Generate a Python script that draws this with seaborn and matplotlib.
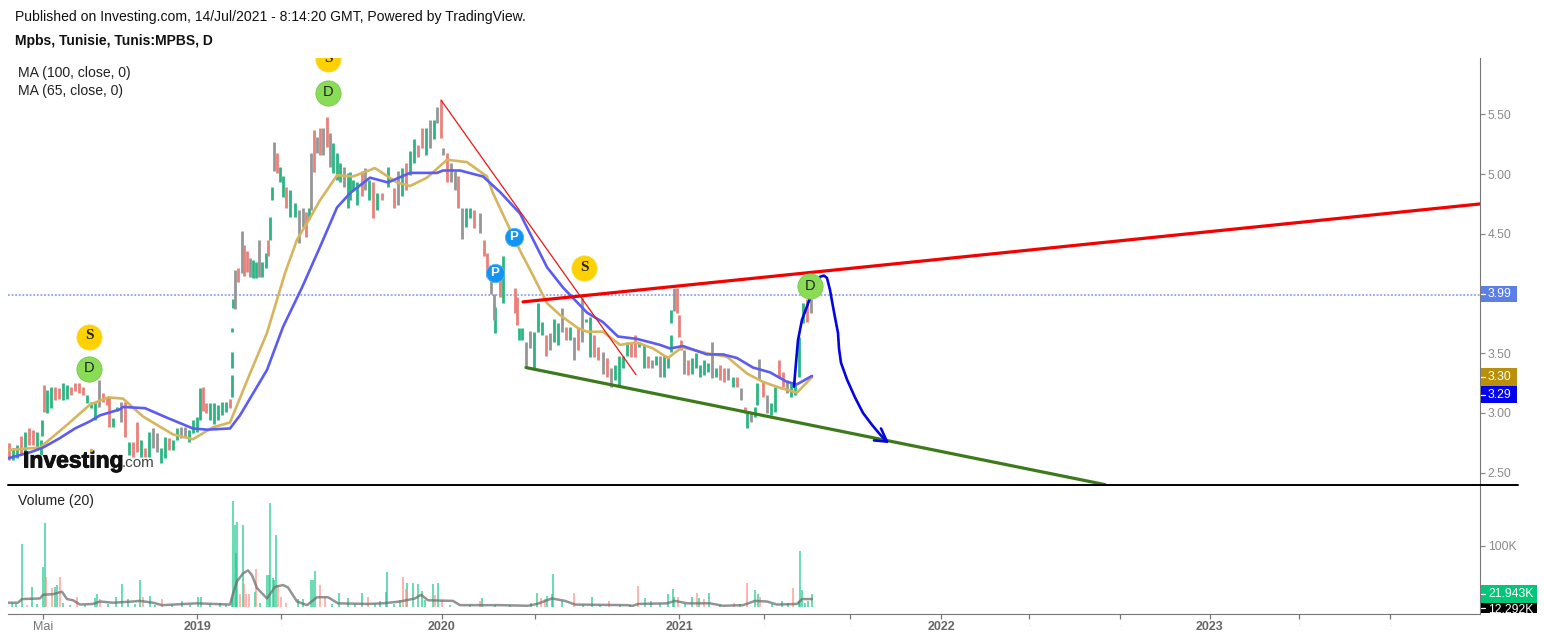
import matplotlib
matplotlib.use("Agg")
import matplotlib.pyplot as plt
import matplotlib.patheffects as pe
from matplotlib.patches import Rectangle
import pandas as pd
import seaborn as sns

W, H = 1544, 640

# Candles (x = bar position on the time axis)
candle_x = [
    9, 13, 17, 21, 25, 29, 33, 37, 41, 42,
    44, 47, 51, 55, 59, 63, 67, 71, 75, 79,
    83, 87, 91, 95, 99, 103, 107, 109, 113, 117,
    121, 125, 129, 133, 137, 141, 145, 149, 153, 157,
    161, 165, 169, 173, 177, 181, 185, 189, 193, 197,
    200, 203, 206, 210, 214, 218, 222, 226, 230, 232,
    232, 232, 233, 235, 238, 242, 244, 247, 250, 253,
    256, 259, 262, 266, 268, 270, 272, 274, 277, 280,
    283, 286, 290, 295, 299, 303, 306, 309, 311, 314,
    317, 320, 323, 327, 330, 333, 337, 340, 344, 348,
    350, 353, 357, 362, 365, 369, 373, 377, 382, 388,
    394, 398, 402, 406, 410, 414, 418, 422, 426, 430,
    434, 437, 441, 443, 447, 451, 455, 458, 462, 466,
    470, 474, 480, 484, 487, 491, 494, 495, 500, 503,
    515, 517, 519, 522, 526, 530, 534, 538, 542, 546,
    550, 554, 558, 562, 566, 570, 574, 578, 582, 586,
    590, 594, 598, 603, 607, 611, 615, 619, 623, 627,
    631, 635, 639, 644, 648, 652, 656, 660, 664, 668,
    671, 671, 674, 677, 679, 681, 684, 688, 692, 696,
    700, 704, 708, 712, 716, 720, 724, 728, 733, 737,
    741, 745, 747, 751, 755, 757, 759, 763, 767, 771,
    775, 779, 783, 787, 791, 795, 799, 803, 807, 811,
]
candle_high = [
    2.75, 2.71, 2.73, 2.81, 2.84, 2.87, 2.86, 2.84, 2.77, 2.94,
    3.23, 3.19, 3.22, 3.22, 3.21, 3.25, 3.23, 3.22, 3.25, 3.25,
    3.22, 3.15, 3.09, 3.09, 3.28, 3.17, 3.13, 3.13, 2.96, 3.05,
    3.09, 3.09, 2.76, 2.76, 2.92, 2.77, 2.71, 2.84, 2.87, 2.83,
    2.71, 2.80, 2.79, 2.77, 2.87, 2.88, 2.88, 2.86, 2.94, 2.97,
    3.21, 3.22, 3.08, 3.08, 3.08, 3.07, 3.09, 3.09, 3.12, 3.32,
    3.51, 3.71, 3.95, 4.20, 4.21, 4.52, 4.41, 4.36, 4.30, 4.28,
    4.26, 4.45, 4.26, 4.34, 4.45, 4.64, 4.89, 5.27, 5.18, 5.06,
    4.98, 4.89, 4.87, 4.76, 4.70, 4.72, 4.68, 4.72, 5.18, 5.37,
    5.31, 5.39, 5.39, 5.48, 5.34, 5.26, 5.18, 5.09, 5.06, 5.01,
    5.02, 4.95, 4.93, 5.03, 5.05, 4.95, 4.93, 4.84, 4.84, 5.06,
    4.88, 5.03, 5.05, 5.09, 5.19, 5.29, 5.24, 5.39, 5.39, 5.45,
    5.45, 5.56, 5.62, 5.22, 5.18, 5.09, 5.03, 4.98, 4.72, 4.72,
    4.72, 4.70, 4.67, 4.45, 4.34, 4.17, 4.00, 3.89, 4.14, 4.31,
    4.05, 3.97, 3.71, 3.71, 3.59, 3.69, 3.68, 3.92, 3.76, 3.65,
    3.67, 3.79, 3.75, 3.88, 3.72, 3.72, 3.64, 3.71, 3.96, 3.79,
    3.80, 3.65, 3.55, 3.51, 3.46, 3.38, 3.40, 3.48, 3.48, 3.59,
    3.59, 3.65, 3.59, 3.57, 3.48, 3.44, 3.48, 3.48, 3.48, 3.48,
    3.65, 3.86, 4.05, 4.05, 3.82, 3.61, 3.53, 3.44, 3.46, 3.50,
    3.40, 3.44, 3.42, 3.59, 3.38, 3.40, 3.38, 3.38, 3.30, 3.30,
    3.21, 3.05, 3.01, 3.01, 3.05, 3.25, 3.45, 3.26, 3.15, 3.08,
    3.22, 3.44, 3.34, 3.28, 3.26, 3.25, 3.64, 3.92, 3.95, 3.95,
]
candle_low = [
    2.61, 2.61, 2.62, 2.65, 2.67, 2.73, 2.73, 2.69, 2.65, 2.81,
    3.01, 3.00, 3.04, 3.11, 3.12, 3.11, 3.12, 3.15, 3.18, 3.17,
    3.15, 3.08, 3.04, 2.94, 3.05, 3.09, 3.07, 2.88, 2.88, 3.02,
    2.92, 2.80, 2.65, 2.63, 2.67, 2.63, 2.63, 2.63, 2.71, 2.67,
    2.58, 2.62, 2.69, 2.69, 2.77, 2.79, 2.80, 2.76, 2.83, 2.84,
    2.94, 3.02, 3.00, 2.94, 2.91, 2.94, 2.98, 3.01, 3.04, 3.13,
    3.38, 3.68, 3.88, 3.87, 4.10, 4.17, 4.15, 4.18, 4.14, 4.13,
    4.13, 4.14, 4.14, 4.21, 4.31, 4.45, 4.78, 5.03, 5.01, 4.93,
    4.81, 4.72, 4.64, 4.64, 4.42, 4.56, 4.47, 4.62, 4.70, 5.02,
    5.18, 5.16, 5.16, 5.23, 5.06, 5.01, 4.95, 4.93, 4.89, 4.72,
    4.78, 4.87, 4.74, 4.82, 4.87, 4.78, 4.63, 4.70, 4.78, 4.89,
    4.72, 4.74, 4.82, 4.87, 4.99, 5.09, 5.14, 5.22, 5.16, 5.22,
    5.29, 5.43, 5.30, 5.16, 4.93, 4.93, 4.87, 4.72, 4.46, 4.56,
    4.63, 4.55, 4.51, 4.31, 4.14, 4.00, 3.78, 3.67, 3.97, 3.92,
    3.84, 3.74, 3.61, 3.61, 3.38, 3.54, 3.38, 3.68, 3.65, 3.48,
    3.53, 3.59, 3.57, 3.68, 3.61, 3.61, 3.44, 3.53, 3.59, 3.76,
    3.47, 3.47, 3.44, 3.33, 3.30, 3.22, 3.28, 3.23, 3.38, 3.48,
    3.47, 3.47, 3.55, 3.38, 3.38, 3.38, 3.40, 3.30, 3.30, 3.38,
    3.51, 3.75, 3.85, 3.84, 3.64, 3.53, 3.33, 3.32, 3.33, 3.38,
    3.30, 3.32, 3.34, 3.29, 3.30, 3.28, 3.26, 3.28, 3.22, 3.22,
    3.11, 3.00, 2.87, 2.92, 2.97, 3.07, 3.28, 3.13, 3.00, 2.98,
    3.01, 3.30, 3.22, 3.17, 3.13, 3.15, 3.30, 3.75, 3.76, 3.84,
]
candle_dir = list(
    "rggrgrrggg"
    "rggrrggrrr"
    "rgggkrrrgg"
    "krgrrgrgkk"
    "ggrggkkggg"
    "grrgggggrg"
    "gggkrkrrkg"
    "gkggrggkrg"
    "grggkkrgkr"
    "krkrkgggkg"
    "gggrkgrgrg"
    "rkgrggrrgk"
    "gkrkrkkrkg"
    "grkrrkkgrg"
    "rrggkkgggr"
    "kggkrgkrkg"
    "grrkrkgggg"
    "rrggrkgkgg"
    "ggkrrrkrgg"
    "gggkgrrkgr"
    "krgkggkrkg"
    "grrkggggrk"
)

# Moving averages
ma100_x = [8, 30, 43, 60, 75, 90, 100, 120, 123, 145, 167, 193, 207, 230, 240, 267,
           283, 302, 320, 337, 350, 370, 388, 410, 437, 443, 460, 483, 500, 520, 523,
           547, 563, 587, 603, 618, 637, 660, 670, 683, 707, 723, 737, 753, 770, 787,
           797, 812]
ma100 = [2.62, 2.67, 2.71, 2.79, 2.87, 2.93, 2.98, 3.03, 3.05, 3.04, 2.96, 2.87, 2.86,
         2.87, 2.98, 3.36, 3.72, 4.05, 4.39, 4.72, 4.84, 4.97, 4.93, 5.01, 5.01, 5.03,
         5.03, 4.98, 4.85, 4.67, 4.62, 4.22, 4.05, 3.84, 3.76, 3.64, 3.62, 3.57, 3.54,
         3.56, 3.49, 3.49, 3.46, 3.38, 3.34, 3.26, 3.24, 3.31]
ma65_x = [8, 40, 67, 90, 108, 123, 143, 173, 193, 213, 230, 250, 267, 285, 297, 307,
          320, 337, 353, 375, 397, 410, 427, 447, 467, 487, 493, 507, 520, 530, 547,
          560, 578, 587, 603, 620, 637, 653, 668, 682, 707, 727, 747, 763, 780, 797, 812]
ma65 = [2.69, 2.71, 2.90, 3.07, 3.13, 3.12, 2.97, 2.82, 2.78, 2.88, 2.92, 3.33, 3.67,
        4.17, 4.45, 4.59, 4.78, 4.99, 4.98, 5.05, 4.93, 4.90, 4.97, 5.12, 5.10, 4.98,
        4.84, 4.59, 4.36, 4.20, 3.92, 3.82, 3.71, 3.68, 3.68, 3.57, 3.59, 3.54, 3.46,
        3.55, 3.50, 3.47, 3.33, 3.26, 3.21, 3.17, 3.30]

# Volume (thousands)
vol_x = [12, 16, 22, 27, 32, 37, 43, 45, 46, 52, 55, 57, 60, 63, 70, 77, 85, 95, 97, 100,
         108, 116, 122, 128, 135, 140, 143, 150, 155, 162, 172, 182, 190, 198, 201, 210,
         220, 226, 232, 233, 235, 236, 237, 240, 243, 244, 246, 249, 255, 256, 260, 267,
         269, 270, 273, 274, 276, 278, 281, 286, 298, 303, 311, 313, 315, 320, 325, 332,
         339, 348, 355, 362, 368, 375, 380, 386, 387, 394, 400, 403, 406, 407, 413, 418,
         422, 425, 433, 435, 438, 442, 450, 470, 480, 482, 495, 510, 531, 537, 541, 545,
         547, 552, 553, 562, 574, 583, 592, 600, 609, 620, 630, 638, 645, 651, 660, 668,
         673, 674, 678, 685, 692, 697, 699, 704, 709, 720, 734, 740, 747, 755, 758, 760,
         772, 782, 788, 793, 799, 800, 802, 805, 808, 812]
vol = [6, 5, 104, 4, 32, 5, 66, 137, 49, 31, 33, 36, 49, 6, 4, 17, 4, 14, 21, 13,
       5, 16, 38, 13, 5, 44, 17, 18, 3, 13, 4, 10, 4, 16, 16, 5,
       7, 3, 17, 174, 134, 88, 140, 22, 134, 38, 22, 22, 25, 63, 6, 52,
       53, 171, 47, 44, 118, 36, 17, 7, 13, 13, 44, 44, 59, 36, 17, 5,
       23, 14, 5, 23, 17, 5, 10, 25, 58, 5, 11, 49, 30, 40, 40, 38,
       26, 12, 38, 20, 40, 11, 4, 3, 9, 14, 3, 3, 6, 23, 15, 13,
       18, 21, 54, 9, 23, 4, 16, 4, 10, 4, 3, 34, 14, 10, 5, 21,
       29, 17, 16, 5, 17, 23, 14, 13, 23, 4, 7, 5, 40, 28, 21, 16,
       5, 10, 6, 31, 10, 92, 28, 6, 10, 21]
vol_dir = list(
    "gggrggggrrggrggrgggr"
    "ggggggrggrgggggg"
    "gggggggrgrrrgrgg"
    "gggggrrrgggggrrg"
    "ggggrggggggrrggg"
    "gggrgrggrgggggrr"
    "ggggrgggrggrgggg"
    "ggrggrgrggrgrggr"
    "gggrgggggg"
)
vol_ma_x = [8, 18, 22, 40, 43, 53, 62, 67, 73, 80, 93, 100, 113, 133, 140, 153, 162, 197,
            230, 233, 237, 243, 248, 252, 257, 267, 275, 283, 288, 297, 307, 317, 328,
            338, 367, 383, 400, 415, 421, 428, 453, 460, 500, 528, 537, 552, 565, 575,
            627, 633, 638, 667, 675, 687, 710, 723, 743, 755, 767, 777, 797, 802, 812]
vol_ma = [7, 7, 13, 14, 20, 21, 25, 13, 11, 4, 5, 9, 7, 9, 10, 7, 3, 6,
          4, 22, 42, 55, 60, 52, 31, 14, 33, 36, 32, 9, 3, 16, 16,
          6, 5, 6, 9, 14, 20, 11, 10, 3, 3, 2, 5, 14, 10, 4,
          3, 2, 5, 6, 10, 6, 6, 2, 3, 10, 9, 4, 5, 13, 13]

# Hand drawn trend lines and the arrow
thin_red_x, thin_red_y = [441, 636], [5.62, 3.32]
thick_red_x, thick_red_y = [523, 1480], [3.93, 4.75]
green_x, green_y = [526, 1105], [3.38, 2.40]
curve_x = [794, 796, 798, 802, 810, 815, 820, 824, 827, 830, 833, 835, 838, 839, 841, 847, 855, 863, 872, 880, 887]
curve_y = [3.22, 3.42, 3.61, 3.78, 3.96, 4.07, 4.14, 4.15, 4.13, 4.03, 3.89, 3.80, 3.67, 3.54, 3.42, 3.28, 3.13, 3.00, 2.90, 2.82, 2.76]
arrow_a_x, arrow_a_y = [874, 887], [2.77, 2.76]
arrow_b_x, arrow_b_y = [881, 887], [2.87, 2.76]

last_price = 3.99
price_ticks = [2.5, 3.0, 3.5, 4.0, 4.5, 5.0, 5.5]
time_ticks = [43, 197, 281, 442, 535, 679, 764, 850, 941, 1029, 1120, 1210, 1299, 1390]
time_labels = ["Mai", "2019", ".", "2020", ".", "2021", ".", ".", "2022", ".", ".", "2023", ".", "."]

# Badges on the chart
badge_x = [89, 89, 328, 328, 514, 495, 584, 810]
badge_y = [3.64, 3.37, 5.96, 5.68, 4.47, 4.17, 4.21, 4.06]
badge_txt = ["S", "D", "S", "D", "P", "P", "S", "D"]

sns.set_style("white")
plt.rcParams['font.family'] = ['Liberation Sans', 'DejaVu Sans']

GRAY = "#8a8a8a"
cols = {"g": "#2bb582", "r": "#e9807a", "k": "#969696"}


def box(x0, y0, x1, y1):
    return [x0 / W, 1 - y1 / H, (x1 - x0) / W, (y1 - y0) / H]


fig = plt.figure(figsize=(W / 100, H / 100), dpi=100)
ax = fig.add_axes(box(8, 58, 1480, 484))
ax_vol = fig.add_axes(box(8, 485, 1480, 614))

# Candles
candles = pd.DataFrame({"x": candle_x, "high": candle_high, "low": candle_low, "dir": candle_dir})
for d, part in candles.groupby("dir"):
    ax.vlines(part["x"], part["low"], part["high"], color=cols[d], lw=2.0, zorder=2)

ax.axhline(last_price, color="#8ea3ea", lw=1.3, ls=(0, (1, 1)), zorder=1)

sns.lineplot(x=ma65_x, y=ma65, ax=ax, color="#d6b55f", lw=1.9, estimator=None, sort=False, zorder=3)
sns.lineplot(x=ma100_x, y=ma100, ax=ax, color="#5c5cf2", lw=1.9, estimator=None, sort=False, zorder=4)

ax.plot(thin_red_x, thin_red_y, color="#f01414", lw=0.9, zorder=5)
ax.plot(thick_red_x, thick_red_y, color="#f40000", lw=2.3, zorder=5)
ax.plot(green_x, green_y, color="#3d7a1c", lw=2.3, zorder=5)
sns.lineplot(x=curve_x, y=curve_y, ax=ax, color="#0505e0", lw=1.9, estimator=None, sort=False, zorder=6)
ax.plot(arrow_a_x, arrow_a_y, color="#0505e0", lw=1.9, zorder=6)
ax.plot(arrow_b_x, arrow_b_y, color="#0505e0", lw=1.9, zorder=6)

# Badges
for x, y, t in zip(badge_x, badge_y, badge_txt):
    if t == "P":
        ax.scatter([x], [y], s=175, color="#1295f2", edgecolor="#5ab6f6", lw=0.6, zorder=7)
        ax.text(x, y, t, color="white", fontsize=9.5, fontweight="bold", ha="center", va="center",
                zorder=8, clip_on=True)
    elif t == "S":
        ax.scatter([x], [y], s=330, color="#ffd100", edgecolor="#f5d94e", lw=0.6, zorder=7)
        ax.text(x, y + 0.01, t, color="#222222", fontsize=11, fontweight="bold", family="Liberation Serif",
                ha="center", va="center", zorder=8, clip_on=True)
    else:
        ax.scatter([x], [y], s=330, color="#8adb55", edgecolor="#79c94c", lw=0.6, zorder=7)
        ax.text(x, y + 0.005, t, color="#222222", fontsize=10.5, ha="center", va="center", zorder=8, clip_on=True)

ax.set_xlim(8, 1480)
ax.set_ylim(2.405, 5.972)
ax.set_xticks([])
ax.set_yticks(price_ticks)
ax.set_yticklabels([f"{p:.2f}" for p in price_ticks])
ax.yaxis.tick_right()
ax.tick_params(axis="y", length=3.5, width=0.9, color=GRAY, labelcolor=GRAY, labelsize=8.7, pad=2, right=True)
for s in ["left", "top", "bottom"]:
    ax.spines[s].set_visible(False)
ax.spines["right"].set_color("#777777")
ax.set_xlabel("")
ax.set_ylabel("")

# Volume
vols = pd.DataFrame({"x": vol_x, "vol": vol, "dir": vol_dir})
sns.barplot(data=vols, x="x", y="vol", hue="dir", ax=ax_vol, native_scale=True, dodge=False, width=1.7,
            palette={"g": "#1fc98a", "r": "#ff8f88"}, saturation=1, alpha=0.65, linewidth=0, errorbar=None,
            legend=False, zorder=2)
sns.lineplot(x=vol_ma_x, y=vol_ma, ax=ax_vol, color="#707070", alpha=0.75, lw=1.8, estimator=None, sort=False, zorder=3)

ax_vol.set_xlim(8, 1480)
ax_vol.set_ylim(-11.5, 200)
ax_vol.set_yticks([100])
ax_vol.set_yticklabels(["100K"])
ax_vol.yaxis.tick_right()
ax_vol.tick_params(axis="y", length=3.5, width=0.9, color=GRAY, labelcolor=GRAY, labelsize=8.7, pad=2, right=True)
ax_vol.set_xticks(time_ticks)
ax_vol.set_xticklabels(time_labels)
ax_vol.tick_params(axis="x", length=3.5, width=0.9, color="#777777", labelcolor="#666666", labelsize=9, pad=1.5, bottom=True)
for lab in ax_vol.get_xticklabels():
    if lab.get_text() in ("2019", "2020", "2021", "2022", "2023"):
        lab.set_fontweight("bold")
    if lab.get_text() == "Mai":
        lab.set_color("#777777")
    if lab.get_text() == ".":
        lab.set_color("#cfcfcf")
        lab.set_fontsize(6)
for s in ["left", "top"]:
    ax_vol.spines[s].set_visible(False)
ax_vol.spines["right"].set_color("#777777")
ax_vol.spines["bottom"].set_color("#777777")
ax_vol.set_xlabel("")
ax_vol.set_ylabel("")

# Pane divider
fig.add_artist(plt.Line2D([8 / W, 1518 / W], [1 - 484.5 / H, 1 - 484.5 / H], color="black", lw=1.4))


# Value tags on the price scale
def tag(x1, y0, y1, txt, fc, tx, ty):
    r = Rectangle((1481 / W, 1 - y1 / H), (x1 - 1481) / W, (y1 - y0) / H, transform=fig.transFigure,
                  facecolor=fc, edgecolor="none", zorder=10)
    fig.add_artist(r)
    t = fig.text(tx / W, 1 - ty / H, txt, color="white", fontsize=8.7, ha="left", va="center", zorder=11)
    t.set_clip_path(r)
    fig.add_artist(plt.Line2D([1481 / W, 1485 / W], [1 - (y0 + y1) / 2 / H] * 2, color="white", lw=0.9, zorder=11))


tag(1517, 286, 302, "3.99", "#5b7fe6", 1488, 294)
tag(1517, 368, 386, "3.30", "#b8900c", 1488, 377)
tag(1517, 386, 403, "3.29", "#0000f0", 1488, 395)
tag(1537, 585, 603, "21.943K", "#00c878", 1488, 594)
tag(1537, 603, 613, "12.292K", "#000000", 1488, 610)

# Header and pane captions
fig.text(15 / W, 1 - 17.5 / H, "Published on Investing.com, 14/Jul/2021 - 8:14:20 GMT, Powered by TradingView.",
         fontsize=10.1, color="#111111", va="center")
fig.text(15 / W, 1 - 41 / H, "Mpbs, Tunisie, Tunis:MPBS, D", fontsize=10, fontweight="bold", color="#111111", va="center")
fig.text(18 / W, 1 - 73.5 / H, "MA (100, close, 0)", fontsize=10.1, color="#222222", va="center")
fig.text(18 / W, 1 - 91 / H, "MA (65, close, 0)", fontsize=10.1, color="#222222", va="center")
fig.text(18 / W, 1 - 501.5 / H, "Volume (20)", fontsize=10.1, color="#222222", va="center")

# Logo
logo = fig.text(23 / W, 1 - 461 / H, "Investing", fontsize=16.5, fontweight="bold", color="#111111", va="center", zorder=12)
logo.set_path_effects([pe.withStroke(linewidth=0.7, foreground="#111111")])
fig.text(122 / W, 1 - 463 / H, ".com", fontsize=11, color="#444444", va="center", zorder=12)
fig.add_artist(plt.Line2D([91 / W], [1 - 450 / H], marker="o", ms=2.5, color="#f0a830", mec="none", zorder=13))

fig.savefig("out.png", dpi=100)
